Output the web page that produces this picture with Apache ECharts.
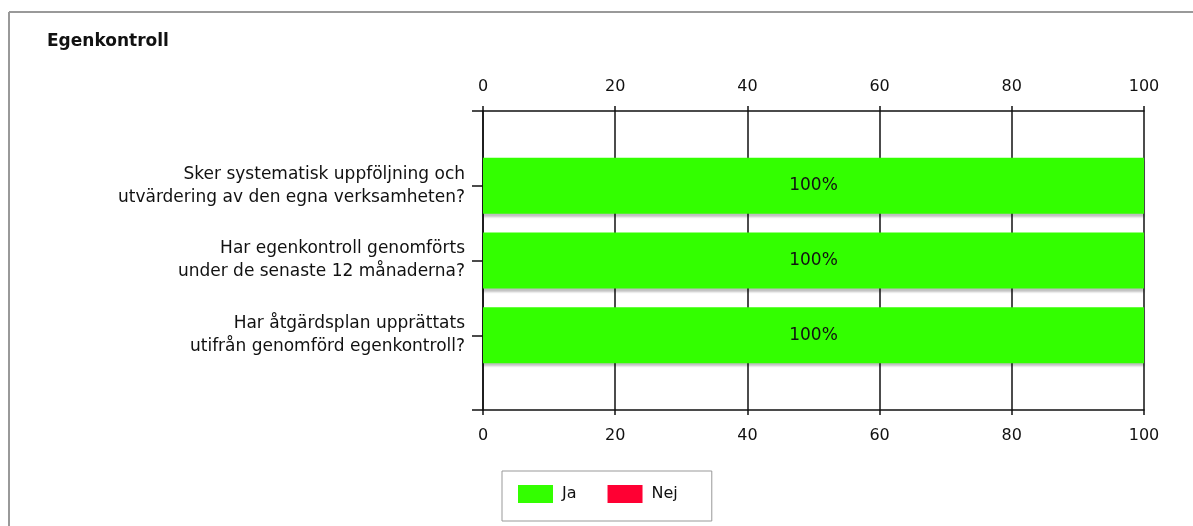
<!DOCTYPE html>
<html>
<head>
<meta charset="utf-8">
<script src="https://cdn.jsdelivr.net/npm/echarts@6/dist/echarts.min.js"></script>
<style>
html,body{margin:0;padding:0;background:#fff;}
#chart{width:1193px;height:526px;}
</style>
</head>
<body>
<div id="chart"></div>
<script>
const title = 'Egenkontroll';
const categories = [
  'Sker systematisk uppföljning och\nutvärdering av den egna verksamheten?',
  'Har egenkontroll genomförts\nunder de senaste 12 månaderna?',
  'Har åtgärdsplan upprättats\nutifrån genomförd egenkontroll?'
];
const jaValues = [100, 100, 100];
const nejValues = [0, 0, 0];
const seriesNames = ['Ja', 'Nej'];
const xTicks = [0, 20, 40, 60, 80, 100];

const FONT = 'DejaVu Sans';
const yData = [''].concat(categories, ['']);
const pad = arr => ['-'].concat(arr, ['-']);

const chart = echarts.init(document.getElementById('chart'), null, {renderer: 'canvas'});
const xAxisBase = {
  type: 'value',
  min: xTicks[0],
  max: xTicks[xTicks.length - 1],
  interval: xTicks[1] - xTicks[0],
  axisLine: {show: true, lineStyle: {color: '#111', width: 1.5}},
  axisTick: {show: true, length: 5, lineStyle: {color: '#111', width: 1.5}},
  axisLabel: {color: '#111', fontFamily: FONT, fontSize: 16, margin: 16},
  splitLine: {show: true, lineStyle: {color: '#111', width: 1.5}}
};
const option = {
  animation: false,
  backgroundColor: '#fff',
  textStyle: {fontFamily: FONT},
  title: {
    text: title, left: 42, top: 28,
    textStyle: {fontFamily: FONT, fontSize: 17, fontWeight: 'bold', color: '#111'}
  },
  graphic: [
    {type: 'line', shape: {x1: 9, y1: 12, x2: 1193, y2: 12}, style: {stroke: '#999', lineWidth: 2}},
    {type: 'line', shape: {x1: 9, y1: 12, x2: 9, y2: 526}, style: {stroke: '#999', lineWidth: 2}}
  ],
  grid: {left: 483, right: 49, top: 111, bottom: 116, containLabel: false},
  legend: {
    left: 502, top: 471,
    data: seriesNames,
    orient: 'horizontal',
    itemWidth: 35, itemHeight: 18, itemGap: 31,
    icon: 'rect',
    padding: [14, 34, 18, 16],
    borderColor: '#999', borderWidth: 1,
    textStyle: {fontFamily: FONT, fontSize: 16, color: '#111', padding: [0, 0, 0, 4]}
  },
  xAxis: [
    Object.assign({}, xAxisBase, {position: 'top'}),
    Object.assign({}, xAxisBase, {position: 'bottom', splitLine: {show: false},
      axisLabel: Object.assign({}, xAxisBase.axisLabel, {margin: 18})})
  ],
  yAxis: {
    type: 'category',
    data: yData,
    inverse: true,
    boundaryGap: false,
    axisLine: {show: true, lineStyle: {color: '#111', width: 1.5}},
    axisTick: {show: true, length: 11, lineStyle: {color: '#111', width: 1.5}},
    axisLabel: {color: '#111', fontFamily: FONT, fontSize: 17, margin: 18, lineHeight: 23, align: 'right', padding: [3, 0, 0, 0]},
    splitLine: {show: false}
  },
  series: [
    {
      name: seriesNames[0], type: 'bar', stack: 's', barWidth: 56,
      data: pad(jaValues),
      itemStyle: {color: '#33ff00', shadowColor: 'rgba(0,0,0,0.25)', shadowOffsetY: 3, shadowBlur: 2},
      label: {show: true, position: 'inside', formatter: '{c}%', color: '#111', fontFamily: FONT, fontSize: 17}
    },
    {
      name: seriesNames[1], type: 'bar', stack: 's', barWidth: 56,
      data: pad(nejValues),
      itemStyle: {color: '#ff0033', shadowColor: 'rgba(0,0,0,0.25)', shadowOffsetY: 3, shadowBlur: 2},
      label: {show: false}
    }
  ]
};
chart.setOption(option);
</script>
</body>
</html>
